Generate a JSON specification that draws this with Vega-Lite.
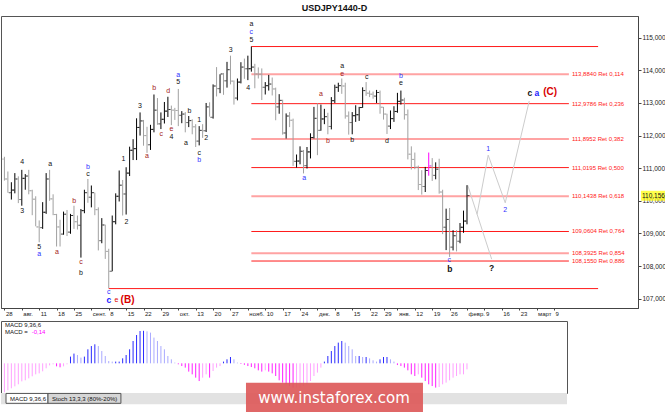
{
"$schema":"https://vega.github.io/schema/vega-lite/v6.json",
"background":"#ffffff",
"padding":{"left":0,"top":3,"right":0,"bottom":0},
"title":{"text":"USDJPY1440-D","fontSize":9,"fontWeight":"bold","font":"Liberation Sans","color":"#111111","anchor":"middle","offset":3},
"spacing":13,
"bounds":"flush",
"config":{"font":"Liberation Sans","view":{"stroke":"#555555"},"axis":{"grid":false,"labelOverlap":false,"labelFlush":false,"labelBound":false}},
"datasets":{
"bars":[
{"i":0,"o":111.28,"h":111.35,"l":110.62,"c":110.67},{"i":1,"o":110.67,"h":110.9,"l":110.25,"c":110.25},{"i":2,"o":110.25,"h":110.57,"l":110.04,"c":110.33},{"i":3,"o":110.33,"h":110.85,"l":110.23,"c":110.67},{"i":4,"o":110.67,"h":110.75,"l":109.93,"c":110.04},{"i":5,"o":110.04,"h":110.95,"l":109.85,"c":110.69},{"i":6,"o":110.69,"h":110.82,"l":110.34,"c":110.76},{"i":7,"o":110.76,"h":110.95,"l":110.2,"c":110.31},{"i":8,"o":110.31,"h":110.34,"l":109.56,"c":110.05},{"i":9,"o":110.05,"h":110.14,"l":109.22,"c":109.2},
{"i":10,"o":109.2,"h":109.4,"l":108.73,"c":109.18},{"i":11,"o":109.18,"h":109.96,"l":109.14,"c":109.65},{"i":12,"o":109.65,"h":110.85,"l":109.6,"c":110.67},{"i":13,"o":110.67,"h":110.95,"l":110.0,"c":110.06},{"i":14,"o":110.06,"h":110.2,"l":109.56,"c":109.58},{"i":15,"o":109.58,"h":109.6,"l":108.6,"c":109.2},{"i":16,"o":109.2,"h":109.42,"l":108.6,"c":108.98},{"i":17,"o":108.98,"h":109.67,"l":108.96,"c":109.59},{"i":18,"o":109.59,"h":109.72,"l":108.92,"c":109.04},{"i":19,"o":109.04,"h":109.6,"l":108.99,"c":109.55},
{"i":20,"o":109.55,"h":109.85,"l":109.14,"c":109.36},{"i":21,"o":109.36,"h":109.55,"l":109.12,"c":109.25},{"i":22,"o":109.25,"h":109.75,"l":108.26,"c":109.7},{"i":23,"o":109.7,"h":110.34,"l":109.62,"c":110.25},{"i":24,"o":110.25,"h":110.67,"l":109.94,"c":110.11},{"i":25,"o":110.11,"h":110.47,"l":109.8,"c":110.25},{"i":26,"o":110.25,"h":110.25,"l":109.56,"c":109.73},{"i":27,"o":109.73,"h":109.8,"l":108.48,"c":108.78},{"i":28,"o":108.78,"h":109.47,"l":108.7,"c":109.26},{"i":29,"o":109.26,"h":109.27,"l":108.22,"c":108.45},
{"i":30,"o":108.45,"h":108.53,"l":107.32,"c":107.84},{"i":31,"o":107.84,"h":109.55,"l":107.84,"c":109.36},{"i":32,"o":109.36,"h":110.23,"l":109.28,"c":110.14},{"i":33,"o":110.14,"h":110.93,"l":109.98,"c":110.48},{"i":34,"o":110.48,"h":110.64,"l":109.55,"c":110.21},{"i":35,"o":110.21,"h":111.03,"l":109.58,"c":110.85},{"i":36,"o":110.85,"h":111.66,"l":110.76,"c":111.55},{"i":37,"o":111.55,"h":111.89,"l":111.25,"c":111.6},{"i":38,"o":111.6,"h":112.53,"l":111.25,"c":112.25},{"i":39,"o":112.25,"h":112.71,"l":112.0,"c":112.45},
{"i":40,"o":112.45,"h":112.48,"l":111.69,"c":112.0},{"i":41,"o":112.0,"h":112.27,"l":111.47,"c":111.72},{"i":42,"o":111.72,"h":112.33,"l":111.56,"c":112.19},{"i":43,"o":112.19,"h":113.26,"l":112.1,"c":112.78},{"i":44,"o":112.78,"h":113.15,"l":112.33,"c":112.36},{"i":45,"o":112.36,"h":112.71,"l":112.2,"c":112.5},{"i":46,"o":112.5,"h":113.03,"l":112.37,"c":112.75},{"i":47,"o":112.75,"h":113.19,"l":112.57,"c":112.8},{"i":48,"o":112.8,"h":112.92,"l":112.32,"c":112.78},{"i":49,"o":112.78,"h":112.85,"l":112.48,"c":112.77},
{"i":50,"o":112.77,"h":113.43,"l":112.29,"c":112.62},{"i":51,"o":112.62,"h":112.75,"l":112.38,"c":112.66},{"i":52,"o":112.66,"h":112.72,"l":112.1,"c":112.4},{"i":53,"o":112.4,"h":112.6,"l":112.26,"c":112.46},{"i":54,"o":112.46,"h":112.5,"l":112.04,"c":112.27},{"i":55,"o":112.27,"h":112.35,"l":111.65,"c":111.83},{"i":56,"o":111.83,"h":112.29,"l":111.7,"c":112.16},{"i":57,"o":112.16,"h":112.35,"l":111.93,"c":112.15},{"i":58,"o":112.15,"h":113.0,"l":112.11,"c":112.88},{"i":59,"o":112.88,"h":113.02,"l":112.58,"c":112.56},
{"i":60,"o":112.56,"h":113.57,"l":112.52,"c":113.52},{"i":61,"o":113.52,"h":114.1,"l":113.2,"c":113.44},{"i":62,"o":113.44,"h":113.88,"l":113.3,"c":113.89},{"i":63,"o":113.89,"h":113.92,"l":113.25,"c":113.68},{"i":64,"o":113.68,"h":114.26,"l":113.47,"c":114.02},{"i":65,"o":114.02,"h":114.45,"l":113.57,"c":113.67},{"i":66,"o":113.67,"h":113.69,"l":112.95,"c":113.15},{"i":67,"o":113.15,"h":113.75,"l":113.08,"c":113.64},{"i":68,"o":113.64,"h":114.25,"l":113.6,"c":114.1},{"i":69,"o":114.1,"h":114.36,"l":113.74,"c":114.05},
{"i":70,"o":114.05,"h":114.45,"l":113.7,"c":114.05},{"i":71,"o":114.05,"h":114.73,"l":113.96,"c":114.1},{"i":72,"o":114.1,"h":114.2,"l":113.45,"c":113.89},{"i":73,"o":113.89,"h":114.09,"l":113.75,"c":113.88},{"i":74,"o":113.88,"h":114.06,"l":113.09,"c":113.48},{"i":75,"o":113.48,"h":113.64,"l":113.26,"c":113.53},{"i":76,"o":113.53,"h":113.86,"l":113.38,"c":113.58},{"i":77,"o":113.58,"h":113.78,"l":113.23,"c":113.43},{"i":78,"o":113.43,"h":113.47,"l":112.47,"c":112.88},{"i":79,"o":112.88,"h":113.27,"l":112.67,"c":113.08},
{"i":80,"o":113.08,"h":113.1,"l":112.03,"c":112.08},{"i":81,"o":112.08,"h":112.68,"l":111.91,"c":112.6},{"i":82,"o":112.6,"h":112.72,"l":112.26,"c":112.47},{"i":83,"o":112.47,"h":112.52,"l":111.07,"c":111.21},{"i":84,"o":111.21,"h":111.42,"l":111.02,"c":111.22},{"i":85,"o":111.22,"h":111.67,"l":111.12,"c":111.52},{"i":86,"o":111.52,"h":111.56,"l":110.84,"c":111.08},{"i":87,"o":111.08,"h":111.65,"l":110.99,"c":111.5},{"i":88,"o":111.5,"h":112.07,"l":111.3,"c":111.94},{"i":89,"o":111.94,"h":112.88,"l":111.91,"c":112.53},
{"i":90,"o":112.53,"h":112.99,"l":111.4,"c":112.16},{"i":91,"o":112.16,"h":112.95,"l":112.15,"c":112.51},{"i":92,"o":112.51,"h":112.82,"l":112.35,"c":112.58},{"i":93,"o":112.58,"h":112.7,"l":112.04,"c":112.28},{"i":94,"o":112.28,"h":113.18,"l":112.19,"c":113.07},{"i":95,"o":113.07,"h":113.56,"l":113.0,"c":113.48},{"i":96,"o":113.48,"h":113.62,"l":113.34,"c":113.53},{"i":97,"o":113.53,"h":113.75,"l":113.28,"c":113.52},{"i":98,"o":113.52,"h":113.62,"l":112.52,"c":112.6},{"i":99,"o":112.6,"h":112.74,"l":112.03,"c":112.4},
{"i":100,"o":112.4,"h":112.72,"l":112.04,"c":112.61},{"i":101,"o":112.61,"h":112.93,"l":112.42,"c":112.64},{"i":102,"o":112.64,"h":112.88,"l":112.45,"c":112.86},{"i":103,"o":112.86,"h":113.48,"l":112.85,"c":113.38},{"i":104,"o":113.38,"h":113.64,"l":113.22,"c":113.3},{"i":105,"o":113.3,"h":113.38,"l":113.18,"c":113.27},{"i":106,"o":113.27,"h":113.35,"l":113.13,"c":113.21},{"i":107,"o":113.21,"h":113.4,"l":113.0,"c":113.32},{"i":108,"o":113.32,"h":113.38,"l":112.67,"c":112.87},{"i":109,"o":112.87,"h":112.88,"l":112.49,"c":112.66},
{"i":110,"o":112.66,"h":112.67,"l":112.05,"c":112.29},{"i":111,"o":112.29,"h":112.77,"l":112.2,"c":112.52},{"i":112,"o":112.52,"h":112.9,"l":112.42,"c":112.74},{"i":113,"o":112.74,"h":113.31,"l":112.7,"c":113.05},{"i":114,"o":113.05,"h":113.38,"l":112.95,"c":113.09},{"i":115,"o":113.09,"h":113.16,"l":112.49,"c":112.64},{"i":116,"o":112.64,"h":112.8,"l":111.27,"c":111.43},{"i":117,"o":111.43,"h":111.67,"l":110.96,"c":111.27},{"i":118,"o":111.27,"h":111.48,"l":110.97,"c":111.03},{"i":119,"o":111.03,"h":111.08,"l":110.33,"c":110.5},
{"i":120,"o":110.5,"h":110.94,"l":110.19,"c":110.44},{"i":121,"o":110.44,"h":111.04,"l":110.27,"c":110.93},{"i":122,"o":110.93,"h":111.48,"l":110.77,"c":111.07},{"i":123,"o":111.07,"h":111.31,"l":110.61,"c":110.78},{"i":124,"o":110.78,"h":111.18,"l":110.66,"c":110.97},{"i":125,"o":110.97,"h":111.29,"l":110.22,"c":110.27},{"i":126,"o":110.27,"h":110.34,"l":108.98,"c":109.19},{"i":127,"o":109.19,"h":109.76,"l":108.49,"c":109.43},{"i":128,"o":109.43,"h":109.78,"l":108.28,"c":108.58},{"i":129,"o":108.58,"h":109.1,"l":108.48,"c":108.93},
{"i":130,"o":108.93,"h":109.1,"l":108.45,"c":108.76},{"i":131,"o":108.76,"h":109.32,"l":108.7,"c":109.19},{"i":132,"o":109.19,"h":109.7,"l":109.02,"c":109.38},{"i":133,"o":109.38,"h":110.48,"l":109.28,"c":110.16}
],
"fib":[
{"p":114.73,"a":71,"b":170.7,"k":"s"},
{"p":113.884,"a":71,"b":162.3,"k":"w","lab":"113,8840 Ret 0,114"},
{"p":112.9786,"a":71,"b":162.3,"k":"s","lab":"112,9786 Ret 0,236"},
{"p":111.8952,"a":71,"b":162.3,"k":"w","lab":"111,8952 Ret 0,382"},
{"p":111.0195,"a":71,"b":162.3,"k":"s","lab":"111,0195 Ret 0,500"},
{"p":110.1438,"a":71,"b":162.3,"k":"w","lab":"110,1438 Ret 0,618"},
{"p":109.0604,"a":71,"b":162.3,"k":"s","lab":"109,0604 Ret 0,764"},
{"p":108.3925,"a":71,"b":162.3,"k":"w","lab":"108,3925 Ret 0,854"},
{"p":108.155,"a":71,"b":162.3,"k":"s","lab":"108,1550 Ret 0,886"},
{"p":107.31,"a":30,"b":170.7,"k":"s"}
],
"proj":[
{"g":"d","s":0,"i":133.2,"p":110.48},{"g":"d","s":1,"i":140.1,"p":108.21},
{"g":"u","s":0,"i":135.9,"p":109.59},{"g":"u","s":1,"i":139.1,"p":111.4},{"g":"u","s":2,"i":144,"p":109.94},{"g":"u","s":3,"i":150.9,"p":113.06}
],
"wl":[
{"i":5.1,"p":111.2,"t":"4","k":"blk"},{"i":13.2,"p":111.14,"t":"a","k":"blk"},{"i":5.1,"p":109.69,"t":"3","k":"blk"},{"i":24,"p":111.04,"t":"b","k":"blu"},{"i":24,"p":110.82,"t":"c","k":"blk"},{"i":20.1,"p":110.0,"t":"b","k":"dred"},{"i":10,"p":108.58,"t":"5","k":"blk"},{"i":10,"p":108.37,"t":"a","k":"blu"},{"i":15.1,"p":108.44,"t":"a","k":"dred"},{"i":22,"p":108.12,"t":"c","k":"dred"},{"i":22,"p":107.8,"t":"b","k":"blk"},{"i":30,"p":107.2,"t":"c","k":"blu"},{"i":32.2,"p":106.97,"t":"e","k":"red"},{"i":30,"p":106.97,"t":"c","k":"bluB"},{"i":35.4,"p":106.97,"t":"(B)","k":"redB"},
{"i":34.2,"p":111.29,"t":"1","k":"blk"},{"i":35.1,"p":109.35,"t":"2","k":"blk"},{"i":39,"p":112.92,"t":"3","k":"blk"},{"i":41,"p":111.36,"t":"a","k":"dred"},{"i":43.1,"p":113.47,"t":"b","k":"dred"},{"i":45.1,"p":112.04,"t":"c","k":"dred"},{"i":47.1,"p":113.37,"t":"d","k":"dred"},{"i":48,"p":112.2,"t":"e","k":"dred"},{"i":48,"p":111.96,"t":"4","k":"blk"},{"i":50,"p":113.87,"t":"a","k":"blu"},{"i":50,"p":113.65,"t":"5","k":"blk"},{"i":52.2,"p":111.78,"t":"a","k":"blk"},{"i":53.2,"p":112.74,"t":"b","k":"blk"},{"i":56,"p":112.47,"t":"1","k":"blk"},{"i":56,"p":111.48,"t":"c","k":"blk"},{"i":56,"p":111.25,"t":"b","k":"blu"},{"i":58,"p":111.92,"t":"2","k":"blk"},
{"i":65.1,"p":114.63,"t":"3","k":"blk"},{"i":70.1,"p":113.45,"t":"4","k":"blk"},{"i":71,"p":115.42,"t":"a","k":"blk"},{"i":71,"p":115.18,"t":"c","k":"blu"},{"i":71,"p":114.94,"t":"5","k":"blk"},{"i":86.2,"p":110.71,"t":"a","k":"blu"},{"i":91,"p":113.29,"t":"a","k":"dred"},{"i":93,"p":111.84,"t":"b","k":"dred"},{"i":97.1,"p":114.13,"t":"a","k":"blk"},{"i":97.1,"p":113.9,"t":"e","k":"dred"},{"i":100,"p":111.86,"t":"b","k":"blk"},{"i":104.2,"p":113.81,"t":"c","k":"blk"},{"i":110,"p":111.84,"t":"d","k":"blk"},{"i":114,"p":113.84,"t":"b","k":"blu"},{"i":114,"p":113.6,"t":"e","k":"blk"},
{"i":127.9,"p":108.18,"t":"c","k":"blu"},{"i":128.1,"p":107.9,"t":"b","k":"blkB"},{"i":139.1,"p":111.59,"t":"1","k":"blu"},{"i":140.1,"p":107.95,"t":"?","k":"blkB"},{"i":144,"p":109.72,"t":"2","k":"blu"},{"i":151.1,"p":113.31,"t":"c","k":"blkB"},{"i":153.1,"p":113.31,"t":"a","k":"bluB"},{"i":156.9,"p":113.34,"t":"(C)","k":"redB"}
],
"macd":[
{"i":0,"v":-0.674,"t":"nu"},{"i":1,"v":-0.628,"t":"nu"},{"i":2,"v":-0.581,"t":"nu"},{"i":3,"v":-0.535,"t":"nu"},{"i":4,"v":-0.488,"t":"nu"},{"i":5,"v":-0.419,"t":"nu"},{"i":6,"v":-0.395,"t":"nu"},{"i":7,"v":-0.349,"t":"nu"},{"i":8,"v":-0.302,"t":"nu"},{"i":9,"v":-0.256,"t":"nu"},
{"i":10,"v":-0.233,"t":"nu"},{"i":11,"v":-0.186,"t":"nu"},{"i":12,"v":-0.116,"t":"nu"},{"i":13,"v":-0.047,"t":"nu"},{"i":14,"v":-0.023,"t":"nu"},{"i":15,"v":-0.07,"t":"nd"},{"i":16,"v":-0.093,"t":"nd"},{"i":17,"v":-0.07,"t":"nu"},{"i":18,"v":-0.023,"t":"nu"},{"i":19,"v":0.156,"t":"pu"},
{"i":20,"v":0.226,"t":"pu"},{"i":21,"v":0.193,"t":"pd"},{"i":22,"v":0.133,"t":"pd"},{"i":23,"v":0.156,"t":"pu"},{"i":24,"v":0.326,"t":"pu"},{"i":25,"v":0.402,"t":"pu"},{"i":26,"v":0.442,"t":"pu"},{"i":27,"v":0.402,"t":"pd"},{"i":28,"v":0.286,"t":"pd"},{"i":29,"v":0.17,"t":"pd"},
{"i":30,"v":0.053,"t":"pd"},{"i":31,"v":0.04,"t":"pd"},{"i":32,"v":0.04,"t":"pu"},{"i":33,"v":0.04,"t":"pu"},{"i":34,"v":0.116,"t":"pu"},{"i":35,"v":0.193,"t":"pu"},{"i":36,"v":0.326,"t":"pu"},{"i":37,"v":0.519,"t":"pu"},{"i":38,"v":0.658,"t":"pu"},{"i":39,"v":0.751,"t":"pu"},
{"i":40,"v":0.756,"t":"pu"},{"i":41,"v":0.744,"t":"pd"},{"i":42,"v":0.714,"t":"pd"},{"i":43,"v":0.598,"t":"pd"},{"i":44,"v":0.519,"t":"pd"},{"i":45,"v":0.402,"t":"pd"},{"i":46,"v":0.326,"t":"pd"},{"i":47,"v":0.17,"t":"pd"},{"i":48,"v":0.093,"t":"pd"},{"i":49,"v":0.016,"t":"pd"},
{"i":50,"v":-0.023,"t":"nd"},{"i":51,"v":-0.063,"t":"nd"},{"i":52,"v":-0.1,"t":"nd"},{"i":53,"v":-0.193,"t":"nd"},{"i":54,"v":-0.256,"t":"nd"},{"i":55,"v":-0.333,"t":"nd"},{"i":56,"v":-0.412,"t":"nd"},{"i":57,"v":-0.333,"t":"nu"},{"i":58,"v":-0.256,"t":"nu"},{"i":59,"v":-0.333,"t":"nd"},
{"i":60,"v":-0.179,"t":"nu"},{"i":61,"v":-0.1,"t":"nu"},{"i":62,"v":-0.063,"t":"nu"},{"i":63,"v":0.04,"t":"pu"},{"i":64,"v":0.093,"t":"pu"},{"i":65,"v":0.147,"t":"pu"},{"i":66,"v":0.093,"t":"pd"},{"i":67,"v":0.016,"t":"pd"},{"i":68,"v":-0.016,"t":"nd"},{"i":69,"v":-0.035,"t":"nd"},
{"i":70,"v":-0.063,"t":"nd"},{"i":71,"v":-0.086,"t":"nd"},{"i":72,"v":-0.116,"t":"nd"},{"i":73,"v":-0.163,"t":"nd"},{"i":74,"v":-0.193,"t":"nd"},{"i":75,"v":-0.163,"t":"nu"},{"i":76,"v":-0.193,"t":"nd"},{"i":77,"v":-0.233,"t":"nd"},{"i":78,"v":-0.295,"t":"nd"},{"i":79,"v":-0.395,"t":"nd"},
{"i":80,"v":-0.449,"t":"nd"},{"i":81,"v":-0.488,"t":"nd"},{"i":82,"v":-0.528,"t":"nd"},{"i":83,"v":-0.565,"t":"nd"},{"i":84,"v":-0.565,"t":"nu"},{"i":85,"v":-0.565,"t":"nu"},{"i":86,"v":-0.528,"t":"nu"},{"i":87,"v":-0.488,"t":"nu"},{"i":88,"v":-0.412,"t":"nu"},{"i":89,"v":-0.295,"t":"nu"},
{"i":90,"v":-0.216,"t":"nu"},{"i":91,"v":-0.1,"t":"nu"},{"i":92,"v":0.04,"t":"pu"},{"i":93,"v":0.17,"t":"pu"},{"i":94,"v":0.286,"t":"pu"},{"i":95,"v":0.402,"t":"pu"},{"i":96,"v":0.481,"t":"pu"},{"i":97,"v":0.519,"t":"pu"},{"i":98,"v":0.481,"t":"pd"},{"i":99,"v":0.402,"t":"pd"},
{"i":100,"v":0.326,"t":"pd"},{"i":101,"v":0.17,"t":"pd"},{"i":102,"v":0.17,"t":"pu"},{"i":103,"v":0.147,"t":"pd"},{"i":104,"v":0.147,"t":"pu"},{"i":105,"v":0.116,"t":"pd"},{"i":106,"v":0.07,"t":"pd"},{"i":107,"v":0.04,"t":"pd"},{"i":108,"v":0.093,"t":"pu"},{"i":109,"v":0.147,"t":"pu"},
{"i":110,"v":0.147,"t":"pu"},{"i":111,"v":0.093,"t":"pd"},{"i":112,"v":0.04,"t":"pd"},{"i":113,"v":-0.04,"t":"nd"},{"i":114,"v":-0.063,"t":"nd"},{"i":115,"v":-0.1,"t":"nd"},{"i":116,"v":-0.163,"t":"nd"},{"i":117,"v":-0.256,"t":"nd"},{"i":118,"v":-0.295,"t":"nd"},{"i":119,"v":-0.256,"t":"nu"},
{"i":120,"v":-0.333,"t":"nd"},{"i":121,"v":-0.412,"t":"nd"},{"i":122,"v":-0.488,"t":"nd"},{"i":123,"v":-0.528,"t":"nd"},{"i":124,"v":-0.565,"t":"nd"},{"i":125,"v":-0.551,"t":"nu"},{"i":126,"v":-0.488,"t":"nu"},{"i":127,"v":-0.449,"t":"nu"},{"i":128,"v":-0.395,"t":"nu"},{"i":129,"v":-0.333,"t":"nu"},
{"i":130,"v":-0.295,"t":"nu"},{"i":131,"v":-0.256,"t":"nu"},{"i":132,"v":-0.256,"t":"nu"},{"i":133,"v":-0.14,"t":"nu"}
]
},
"vconcat":[
{
"width":637,"height":292,
"layer":[
{"data":{"name":"fib"},"mark":{"type":"rule"},
 "encoding":{
  "x":{"field":"a","type":"quantitative","title":null},
  "x2":{"field":"b"},
  "y":{"field":"p","type":"quantitative","title":null},
  "color":{"condition":{"test":"datum.k === 'w'","value":"#ffa3a3"},"value":"#ff1a1a"},
  "strokeWidth":{"condition":{"test":"datum.k === 'w'","value":2},"value":1}}},
{"data":{"name":"fib"},"transform":[{"filter":"isValid(datum.lab)"}],
 "mark":{"type":"text","align":"left","baseline":"middle","dx":3,"fontSize":6,"color":"#ff2020"},
 "encoding":{
  "x":{"field":"b","type":"quantitative","title":null},
  "y":{"field":"p","type":"quantitative","title":null},
  "text":{"field":"lab"}}},
{"data":{"name":"proj"},"mark":{"type":"line","color":"#cccccc","strokeWidth":1},
 "encoding":{
  "x":{"field":"i","type":"quantitative","title":null},
  "y":{"field":"p","type":"quantitative","title":null},
  "detail":{"field":"g"},
  "order":{"field":"s"}}},
{"data":{"name":"bars"},"mark":{"type":"rule","strokeWidth":1},
 "encoding":{
  "x":{"field":"i","type":"quantitative","title":null,
   "scale":{"domain":[-0.98,182.17],"nice":false,"zero":false},
   "axis":{"orient":"bottom","tickCount":100,"values":[0,5,10,15,20,25,30,35,40,45,50,55,60,65,70,75,80,85,90,95,100,105,109,113,118,123,128,133,138,143,148,153,158],
    "labelExpr":"['28','авг.','11','18','25','сент.','8','15','22','29','окт.','13','20','27','нояб.','10','17','24','дек.','8','15','22','29','янв.','12','19','26','февр.','9','16','23','март','9'][indexof([0,5,10,15,20,25,30,35,40,45,50,55,60,65,70,75,80,85,90,95,100,105,109,113,118,123,128,133,138,143,148,153,158], datum.value)]",
    "labelAlign":"left","labelOffset":1,"labelPadding":0,"labelFontSize":6,"labelColor":"#222222","tickSize":2,"tickColor":"#444444","domainColor":"#444444","labelOverlap":false,"labelFlush":false,"labelBound":false,"grid":false}},
  "y":{"field":"l","type":"quantitative","title":null,
   "scale":{"domain":[106.715,115.666],"nice":false,"zero":false},
   "axis":{"orient":"right","tickCount":50,"values":[107,108,109,110,111,112,113,114,115],
    "labelExpr":"replace(format(datum.value, '.3f'), '.', ',')",
    "labelPadding":1,"labelFontSize":6.5,"labelColor":"#222222","tickSize":3,"tickColor":"#444444","domainColor":"#444444","labelOverlap":false,"grid":false}},
  "y2":{"field":"h"},
  "color":{"condition":[{"test":"datum.i === 122","value":"#ff00ff"},{"test":"datum.c >= datum.o","value":"#000000"}],"value":"#a0a0a0"}}},
{"data":{"name":"bars"},"mark":{"type":"tick","orient":"horizontal","size":2,"thickness":1,"xOffset":-1.5},
 "encoding":{
  "x":{"field":"i","type":"quantitative","title":null},
  "y":{"field":"o","type":"quantitative","title":null},
  "color":{"condition":[{"test":"datum.i === 122","value":"#ff00ff"},{"test":"datum.c >= datum.o","value":"#000000"}],"value":"#a0a0a0"}}},
{"data":{"name":"bars"},"mark":{"type":"tick","orient":"horizontal","size":2,"thickness":1,"xOffset":1.5},
 "encoding":{
  "x":{"field":"i","type":"quantitative","title":null},
  "y":{"field":"c","type":"quantitative","title":null},
  "color":{"condition":[{"test":"datum.i === 122","value":"#ff00ff"},{"test":"datum.c >= datum.o","value":"#000000"}],"value":"#a0a0a0"}}},
{"data":{"name":"wl"},"transform":[{"filter":"datum.k === 'blk' || datum.k === 'blu' || datum.k === 'dred' || datum.k === 'red'"}],
 "mark":{"type":"text","align":"center","baseline":"middle","fontSize":7},
 "encoding":{
  "x":{"field":"i","type":"quantitative","title":null},
  "y":{"field":"p","type":"quantitative","title":null},
  "text":{"field":"t"},
  "color":{"condition":[{"test":"datum.k === 'blu'","value":"#3030ff"},{"test":"datum.k === 'dred'","value":"#a31a1a"},{"test":"datum.k === 'red'","value":"#e00000"}],"value":"#111111"}}},
{"data":{"name":"wl"},"transform":[{"filter":"datum.k === 'blkB' || datum.k === 'bluB'"}],
 "mark":{"type":"text","align":"center","baseline":"middle","fontSize":8.5,"fontWeight":"bold"},
 "encoding":{
  "x":{"field":"i","type":"quantitative","title":null},
  "y":{"field":"p","type":"quantitative","title":null},
  "text":{"field":"t"},
  "color":{"condition":{"test":"datum.k === 'bluB'","value":"#2020ff"},"value":"#111111"}}},
{"data":{"name":"wl"},"transform":[{"filter":"datum.k === 'redB'"}],
 "mark":{"type":"text","align":"center","baseline":"middle","fontSize":10,"fontWeight":"bold","color":"#d80000"},
 "encoding":{
  "x":{"field":"i","type":"quantitative","title":null},
  "y":{"field":"p","type":"quantitative","title":null},
  "text":{"field":"t"}}},
{"data":{"values":[{"p":110.156,"lab":"110,156"}]},
 "mark":{"type":"tick","orient":"horizontal","size":27,"thickness":10,"color":"#ffff00"},
 "encoding":{
  "x":{"datum":186.9,"type":"quantitative"},
  "y":{"field":"p","type":"quantitative","title":null}}},
{"data":{"values":[{"p":110.156,"lab":"110,156"}]},
 "mark":{"type":"text","align":"left","baseline":"middle","fontSize":6.5,"color":"#111111"},
 "encoding":{
  "x":{"datum":183.3,"type":"quantitative"},
  "y":{"field":"p","type":"quantitative","title":null},
  "text":{"field":"lab"}}}
]
},
{
"width":566,"height":72,
"layer":[
{"data":{"name":"macd"},"mark":{"type":"rule","strokeWidth":1},
 "encoding":{
  "x":{"field":"i","type":"quantitative","title":null,"scale":{"domain":[-0.98,161.76],"nice":false,"zero":false},"axis":null},
  "y":{"field":"v","type":"quantitative","title":null,"scale":{"domain":[-0.69,0.984],"nice":false,"zero":false},"axis":null},
  "y2":{"datum":0},
  "color":{"condition":[{"test":"datum.t === 'pu'","value":"#2a2aff"},{"test":"datum.t === 'pd'","value":"#a9a9ff"},{"test":"datum.t === 'nd'","value":"#ff1eff"}],"value":"#ffa0ff"}}},
{"data":{"values":[{"s":"MACD 9,36,6"}]},
 "mark":{"type":"text","align":"left","baseline":"middle","fontSize":6,"color":"#111111"},
 "encoding":{"x":{"datum":0.17,"type":"quantitative","axis":null},"y":{"datum":0.9,"type":"quantitative","axis":null},"text":{"field":"s"}}},
{"data":{"values":[{"s":"MACD = "}]},
 "mark":{"type":"text","align":"left","baseline":"middle","fontSize":6,"color":"#111111"},
 "encoding":{"x":{"datum":0.17,"type":"quantitative","axis":null},"y":{"datum":0.72,"type":"quantitative","axis":null},"text":{"field":"s"}}},
{"data":{"values":[{"s":"-0,14"}]},
 "mark":{"type":"text","align":"left","baseline":"middle","fontSize":6,"color":"#ff00ff"},
 "encoding":{"x":{"datum":7.85,"type":"quantitative","axis":null},"y":{"datum":0.72,"type":"quantitative","axis":null},"text":{"field":"s"}}},
{"data":{"values":[{"s":"tabs"}]},
 "mark":{"type":"rect","color":"#e2e2e2"},
 "encoding":{"x":{"datum":-0.98,"type":"quantitative","axis":null},"x2":{"datum":161.76},"y":{"datum":-0.69,"type":"quantitative","axis":null},"y2":{"datum":-0.95}}},
{"data":{"values":[{"s":"tab1"}]},
 "mark":{"type":"rect","color":"#ffffff","stroke":"#555555","strokeWidth":1},
 "encoding":{"x":{"datum":0.46,"type":"quantitative","axis":null},"x2":{"datum":12.53},"y":{"datum":-0.7,"type":"quantitative","axis":null},"y2":{"datum":-0.93}}},
{"data":{"values":[{"s":"tab2"}]},
 "mark":{"type":"rect","color":"#d6d6d6","stroke":"#555555","strokeWidth":1},
 "encoding":{"x":{"datum":12.53,"type":"quantitative","axis":null},"x2":{"datum":33.5},"y":{"datum":-0.7,"type":"quantitative","axis":null},"y2":{"datum":-0.93}}},
{"data":{"values":[{"s":"MACD 9,36,6"}]},
 "mark":{"type":"text","align":"left","baseline":"middle","fontSize":6,"color":"#111111"},
 "encoding":{"x":{"datum":1.61,"type":"quantitative","axis":null},"y":{"datum":-0.82,"type":"quantitative","axis":null},"text":{"field":"s"}}},
{"data":{"values":[{"s":"Stoch 13,3,3 (80%-20%)"}]},
 "mark":{"type":"text","align":"left","baseline":"middle","fontSize":6,"color":"#111111"},
 "encoding":{"x":{"datum":13.68,"type":"quantitative","axis":null},"y":{"datum":-0.82,"type":"quantitative","axis":null},"text":{"field":"s"}}},
{"data":{"values":[{"s":"wm"}]},
 "mark":{"type":"rect","color":"#dd5a5a","opacity":0.92},
 "encoding":{"x":{"datum":69.46,"type":"quantitative","axis":null},"x2":{"datum":120.35},"y":{"datum":-0.451,"type":"quantitative","axis":null},"y2":{"datum":-1.16}}},
{"data":{"values":[{"s":"www.instaforex.com"}]},
 "mark":{"type":"text","align":"center","baseline":"middle","fontSize":15,"font":"DejaVu Sans","color":"#ffffff"},
 "encoding":{"x":{"datum":94.76,"type":"quantitative","axis":null},"y":{"datum":-0.81,"type":"quantitative","axis":null},"text":{"field":"s"}}}
]
}
]
}
